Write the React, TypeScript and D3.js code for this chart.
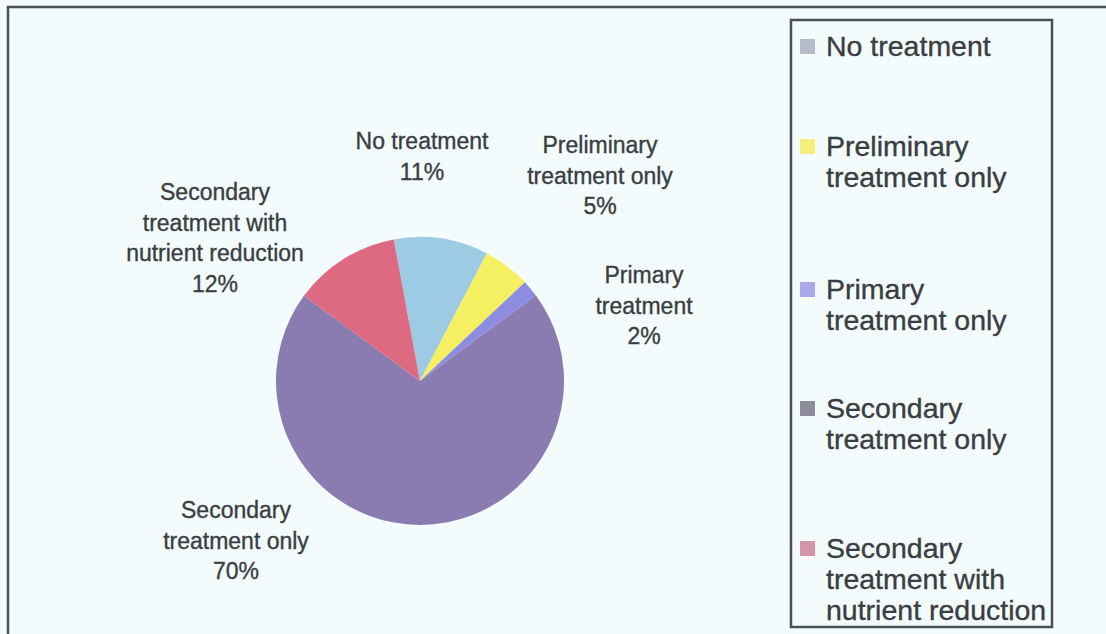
import React from "react";
import * as d3 from "d3";

const categories = [
  "No treatment",
  "Preliminary treatment only",
  "Primary treatment only",
  "Secondary treatment only",
  "Secondary treatment with nutrient reduction",
];
const values = [10.6, 5.3, 1.9, 70.2, 12.0];
const sliceColors = ["#9dcbe4", "#f4f062", "#8c8ce0", "#8a7bb0", "#de6a82"];
const legendColors = ["#b4bcc8", "#f2f07a", "#a9a9ea", "#8c8c9a", "#d495a8"];
const pieLabelLines = [
  ["No treatment"],
  ["Preliminary", "treatment only"],
  ["Primary", "treatment"],
  ["Secondary", "treatment only"],
  ["Secondary", "treatment with", "nutrient reduction"],
];
const legendLines = [
  ["No treatment"],
  ["Preliminary", "treatment only"],
  ["Primary", "treatment only"],
  ["Secondary", "treatment only"],
  ["Secondary", "treatment with", "nutrient reduction"],
];

// layout
const W = 1106;
const H = 634;
const cx = 420;
const cy = 381;
const R = 144;
const startDeg = -10.5;
const labelPos = [
  { x: 422, y: 149 },
  { x: 600, y: 153 },
  { x: 644, y: 283 },
  { x: 236, y: 518 },
  { x: 215, y: 200 },
];
const legendTop = [46, 146, 289, 408, 548];
const textColor = "#3a3e42";
const borderColor = "#4a5154";
const font = "'Liberation Sans', Arial, Helvetica, sans-serif";

export default function App() {
  const total = d3.sum(values);
  const start = (startDeg * Math.PI) / 180;
  const pie = d3
    .pie<number>()
    .sort(null)
    .startAngle(start)
    .endAngle(start + 2 * Math.PI)
    .value((d) => d);
  const arcs = pie(values);
  const arc = d3.arc<d3.PieArcDatum<number>>().innerRadius(0).outerRadius(R);
  const pct = (v: number) => `${Math.round((v / total) * 100)}%`;

  return (
    <svg
      width={W}
      height={H}
      style={{ position: "absolute", left: 0, top: 0, display: "block" }}
      fontFamily={font}
    >
      <rect x={0} y={0} width={W} height={H} fill="#f3fbfc" />
      <path
        d={`M8,${H} L8,7 L${W},7`}
        fill="none"
        stroke={borderColor}
        strokeWidth={2.5}
      />
      <g transform={`translate(${cx},${cy})`}>
        {arcs.map((a, i) => (
          <path key={i} d={arc(a) || ""} fill={sliceColors[i]} />
        ))}
      </g>
      {pieLabelLines.map((lines, i) => {
        const all = [...lines, pct(values[i])];
        return (
          <text
            key={i}
            x={labelPos[i].x}
            y={labelPos[i].y}
            textAnchor="middle"
            fontSize={23}
            fill={textColor}
            stroke={textColor}
            strokeWidth={0.35}
          >
            {all.map((l, j) => (
              <tspan key={j} x={labelPos[i].x} dy={j === 0 ? 0 : 30.5}>
                {l}
              </tspan>
            ))}
          </text>
        );
      })}
      <rect
        x={791}
        y={20}
        width={261}
        height={607}
        fill="none"
        stroke={borderColor}
        strokeWidth={2.5}
      />
      {legendLines.map((lines, i) => (
        <g key={i}>
          <rect
            x={800}
            y={legendTop[i] - 7}
            width={15}
            height={15}
            fill={legendColors[i]}
          />
          <text
            fontSize={28.5}
            fill={textColor}
            stroke={textColor}
            strokeWidth={0.35}
          >
            {lines.map((l, j) => (
              <tspan key={j} x={826} y={legendTop[i] + 10 + j * 31}>
                {l}
              </tspan>
            ))}
          </text>
        </g>
      ))}
    </svg>
  );
}
